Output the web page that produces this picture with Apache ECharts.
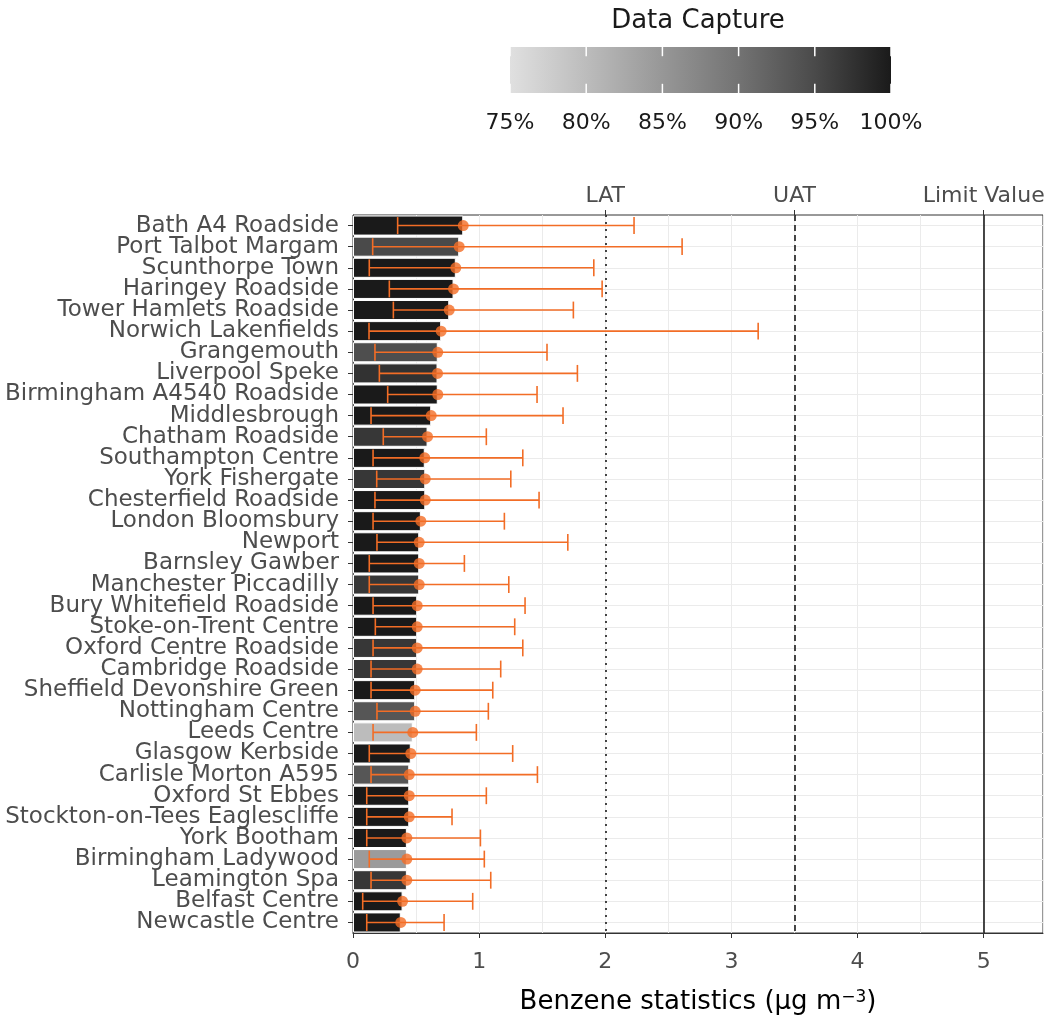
<!DOCTYPE html>
<html><head><meta charset="utf-8">
<script src="https://cdn.jsdelivr.net/npm/echarts@6/dist/echarts.min.js"></script>
<style>html,body{margin:0;padding:0;background:#fff}#chart{width:1047px;height:1022px}</style>
</head><body><div id="chart"></div>
<script>
const categories = [
  'Bath A4 Roadside','Port Talbot Margam','Scunthorpe Town','Haringey Roadside','Tower Hamlets Roadside',
  'Norwich Lakenfields','Grangemouth','Liverpool Speke','Birmingham A4540 Roadside','Middlesbrough',
  'Chatham Roadside','Southampton Centre','York Fishergate','Chesterfield Roadside','London Bloomsbury',
  'Newport','Barnsley Gawber','Manchester Piccadilly','Bury Whitefield Roadside','Stoke-on-Trent Centre',
  'Oxford Centre Roadside','Cambridge Roadside','Sheffield Devonshire Green','Nottingham Centre','Leeds Centre',
  'Glasgow Kerbside','Carlisle Morton A595','Oxford St Ebbes','Stockton-on-Tees Eaglescliffe','York Bootham',
  'Birmingham Ladywood','Leamington Spa','Belfast Centre','Newcastle Centre'
];
const meanValues = [
  0.874,0.842,0.815,0.797,0.763,0.699,0.672,0.670,0.672,0.620,
  0.591,0.569,0.573,0.573,0.538,0.525,0.525,0.525,0.509,0.509,
  0.509,0.509,0.493,0.493,0.474,0.458,0.446,0.446,0.446,0.427,
  0.427,0.427,0.393,0.379
];
const minValues = [
  0.354,0.156,0.129,0.288,0.320,0.127,0.174,0.209,0.275,0.143,
  0.240,0.159,0.188,0.174,0.159,0.190,0.129,0.129,0.159,0.177,
  0.159,0.143,0.143,0.190,0.159,0.129,0.143,0.109,0.109,0.109,
  0.129,0.143,0.077,0.109
];
const maxValues = [
  2.228,2.609,1.909,1.975,1.747,3.212,1.538,1.779,1.459,1.665,
  1.057,1.346,1.251,1.475,1.200,1.703,0.883,1.235,1.364,1.282,
  1.346,1.171,1.108,1.073,0.978,1.266,1.462,1.057,0.785,1.010,
  1.041,1.092,0.949,0.722
];
const captureValues = [
  100,95,100,100,100,100,94.5,97.5,100,100,
  97,100,97,100,100,100,100,97,100,100,
  97,97,100,93.5,80,100,93.5,100,100,100,
  84.5,97,100,100
];
const thresholdValues = [2, 3.5, 5];
const thresholdLabels = ['LAT', 'UAT', 'Limit Value'];
const legendBreaks = [75, 80, 85, 90, 95, 100];
const legendLabels = ['75%', '80%', '85%', '90%', '95%', '100%'];
const greyStops = ['#e0e0e0', '#bcbcbc', '#979797', '#737373', '#4a4a4a', '#1a1a1a'];
const X_MAX = 5.47;

const FONT = 'DejaVu Sans';
const ORANGE = '#f26d26';
const GRID = {left: 353, right: 4, top: 215, bottom: 89};

// legend layout
const LEG = {x: 510, y: 47, w: 381, h: 46};
const legendGraphics = [];
legendGraphics.push({type: 'text', x: 698, y: 21, style: {text: 'Data Capture', font: '26px "' + FONT + '"', fill: '#1a1a1a', align: 'center', verticalAlign: 'middle'}});
legendGraphics.push({
  type: 'rect', shape: {x: LEG.x, y: LEG.y, width: LEG.w, height: LEG.h},
  style: {fill: {type: 'linear', x: 0, y: 0, x2: 1, y2: 0,
    colorStops: greyStops.map((c, i) => ({offset: i / (greyStops.length - 1), color: c}))}}
});
legendBreaks.forEach((b, i) => {
  const x = LEG.x + (b - legendBreaks[0]) / (legendBreaks[legendBreaks.length - 1] - legendBreaks[0]) * LEG.w;
  legendGraphics.push({type: 'line', shape: {x1: x, y1: LEG.y, x2: x, y2: LEG.y + LEG.h / 5}, style: {stroke: '#fff', lineWidth: 1.5}});
  legendGraphics.push({type: 'line', shape: {x1: x, y1: LEG.y + LEG.h * 4 / 5, x2: x, y2: LEG.y + LEG.h}, style: {stroke: '#fff', lineWidth: 1.5}});
  legendGraphics.push({type: 'text', x: x, y: 123, style: {text: legendLabels[i], font: '22px "' + FONT + '"', fill: '#1a1a1a', align: 'center', verticalAlign: 'middle'}});
});

const chart = echarts.init(document.getElementById('chart'), null, {renderer: 'canvas'});
const option = {
  backgroundColor: '#ffffff',
  animation: false,
  textStyle: {fontFamily: FONT},
  grid: Object.assign({containLabel: false, outerBoundsMode: 'none', show: true, borderColor: '#333333', borderWidth: 1, backgroundColor: 'transparent'}, GRID),
  visualMap: {
    type: 'continuous', show: false, min: 75, max: 100, dimension: 2, seriesIndex: 0,
    inRange: {color: greyStops}
  },
  xAxis: [
    {
      type: 'value', min: 0, max: X_MAX, interval: 1, position: 'bottom',
      axisLine: {show: true, onZero: false, lineStyle: {color: '#333333', width: 1}},
      axisTick: {show: true, length: 5, lineStyle: {color: '#333333', width: 1}},
      axisLabel: {fontSize: 22, color: '#4d4d4d', fontFamily: FONT, margin: 18, showMaxLabel: false,
        formatter: v => (Math.abs(v - Math.round(v)) < 1e-9 ? String(Math.round(v)) : '')},
      splitLine: {show: false},
      name: 'Benzene statistics (μg m{sup|−3})', nameLocation: 'middle', nameGap: 56,
      nameTextStyle: {fontSize: 26, color: '#000000', fontFamily: FONT,
        rich: {sup: {fontSize: 17, color: '#000000', fontFamily: FONT, verticalAlign: 'top', padding: [0, 0, 10, 0]}}}
    },
    {
      type: 'value', min: 0, max: X_MAX, position: 'top',
      axisLine: {show: false},
      axisTick: {show: true, length: 5, customValues: thresholdValues, lineStyle: {color: '#333333', width: 1}},
      axisLabel: {show: true, customValues: thresholdValues, fontSize: 22, color: '#4d4d4d', fontFamily: FONT, margin: 8,
        formatter: v => { const k = thresholdValues.indexOf(v); return k >= 0 ? thresholdLabels[k] : ''; }},
      splitLine: {show: false}
    },
    {
      type: 'value', min: 0, max: X_MAX, interval: 0.5, position: 'bottom',
      axisLine: {show: false}, axisTick: {show: false}, axisLabel: {show: false},
      splitLine: {show: true, lineStyle: {color: '#ebebeb', width: 1}}
    }
  ],
  yAxis: {
    type: 'category', data: categories, inverse: true,
    axisLine: {show: true, lineStyle: {color: '#333333', width: 1}},
    axisTick: {show: true, length: 5, alignWithLabel: true, interval: 0, lineStyle: {color: '#333333'}},
    axisLabel: {interval: 0, fontSize: 23, color: '#4d4d4d', fontFamily: FONT, margin: 14},
    splitLine: {show: false}
  },
  series: [
    {
      type: 'bar', xAxisIndex: 0, yAxisIndex: 0, z: 2,
      data: categories.map((c, i) => [meanValues[i], i, captureValues[i]]),
      encode: {x: 0, y: 1},
      barWidth: '95%',
      itemStyle: {borderColor: '#ffffff', borderWidth: 1},
      markLine: {
        silent: true, symbol: 'none', z: 1, label: {show: false},
        lineStyle: {color: '#ebebeb', width: 1, type: 'solid'},
        data: categories.map((c, i) => ({yAxis: i}))
      }
    },
    {
      type: 'custom', xAxisIndex: 0, yAxisIndex: 0, z: 3,
      data: categories.map((c, i) => [minValues[i], i, maxValues[i]]),
      encode: {x: [0, 2], y: 1},
      renderItem: function (params, api) {
        const y = api.value(1);
        const p1 = api.coord([api.value(0), y]);
        const p2 = api.coord([api.value(2), y]);
        const h = api.size([0, 1])[1] * 0.8;
        const st = {stroke: ORANGE, lineWidth: 1.6};
        return {type: 'group', children: [
          {type: 'line', shape: {x1: p1[0], y1: p1[1], x2: p2[0], y2: p2[1]}, style: st},
          {type: 'line', shape: {x1: p1[0], y1: p1[1] - h / 2, x2: p1[0], y2: p1[1] + h / 2}, style: st},
          {type: 'line', shape: {x1: p2[0], y1: p2[1] - h / 2, x2: p2[0], y2: p2[1] + h / 2}, style: st}
        ]};
      }
    },
    {
      type: 'scatter', xAxisIndex: 0, yAxisIndex: 0, z: 4,
      data: categories.map((c, i) => [meanValues[i], i]),
      symbol: 'circle', symbolSize: 11,
      itemStyle: {color: ORANGE},
      markLine: {
        silent: true, symbol: 'none', label: {show: false},
        data: [
          {xAxis: thresholdValues[0], lineStyle: {color: '#1a1a1a', width: 1.6, type: [2, 5]}},
          {xAxis: thresholdValues[1], lineStyle: {color: '#1a1a1a', width: 1.6, type: [6, 4]}},
          {xAxis: thresholdValues[2], lineStyle: {color: '#1a1a1a', width: 1.6, type: 'solid'}}
        ]
      }
    }
  ],
  graphic: legendGraphics
};
chart.setOption(option);
</script>
</body></html>
